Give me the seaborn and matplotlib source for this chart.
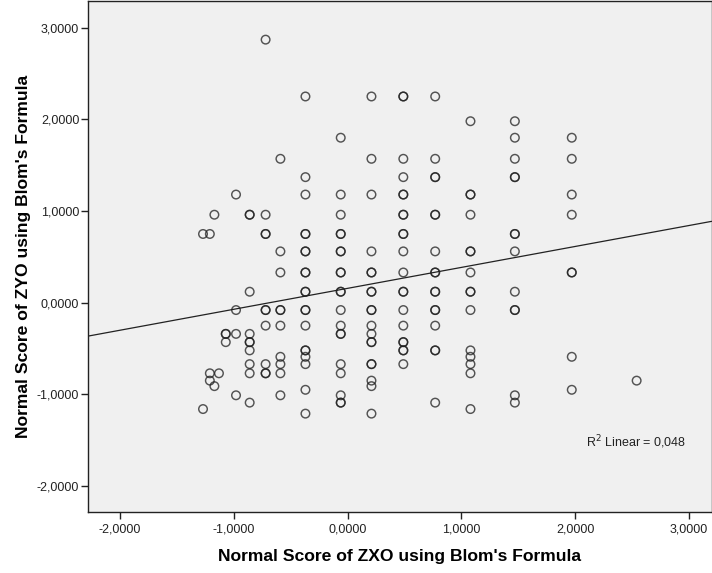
import matplotlib
matplotlib.use("Agg")
import matplotlib.pyplot as plt
from matplotlib.ticker import FuncFormatter, FixedLocator
import seaborn as sns
import pandas as pd

# ---- data (Blom normal scores) ----
zxo = (
    [-1.27] * 2 + [-1.21] * 3 + [-1.17] * 2 + [-1.13] * 1 + [-1.07] * 3 +
    [-0.98] * 4 + [-0.86] * 10 + [-0.72] * 10 + [-0.59] * 10 +
    [-0.37] * 20 + [-0.06] * 20 + [0.21] * 19 + [0.49] * 21 +
    [0.77] * 17 + [1.08] * 15 + [1.47] * 13 + [1.97] * 8 + [2.54] * 1
)
zyo = (
    [0.75, -1.16] +
    [0.75, -0.77, -0.85] +
    [0.96, -0.91] +
    [-0.77] +
    [-0.34, -0.34, -0.43] +
    [1.18, -0.08, -0.34, -1.01] +
    [0.96, 0.96, 0.12, -0.34, -0.43, -0.43, -0.52, -0.67, -0.77, -1.09] +
    [2.87, 0.96, 0.75, 0.75, -0.08, -0.08, -0.25, -0.67, -0.77, -0.77] +
    [1.57, 0.56, 0.33, -0.08, -0.08, -0.25, -0.59, -0.67, -0.77, -1.01] +
    [2.25, 1.37, 1.18, 0.75, 0.75, 0.56, 0.56, 0.33, 0.33, 0.12, 0.12,
     -0.08, -0.08, -0.25, -0.52, -0.52, -0.59, -0.67, -0.95, -1.21] +
    [1.80, 1.18, 0.96, 0.75, 0.75, 0.56, 0.56, 0.33, 0.33, 0.12, 0.12,
     -0.08, -0.25, -0.34, -0.34, -0.67, -0.77, -1.01, -1.09, -1.09] +
    [2.25, 1.57, 1.18, 0.56, 0.33, 0.33, 0.12, 0.12, -0.08, -0.08,
     -0.25, -0.34, -0.43, -0.43, -0.67, -0.67, -0.85, -0.91, -1.21] +
    [2.25, 2.25, 1.57, 1.37, 1.18, 1.18, 0.96, 0.96, 0.75, 0.75, 0.56,
     0.33, 0.12, 0.12, -0.08, -0.25, -0.43, -0.43, -0.52, -0.52, -0.67] +
    [2.25, 1.57, 1.37, 1.37, 0.96, 0.96, 0.56, 0.33, 0.33, 0.12, 0.12,
     -0.08, -0.08, -0.25, -0.52, -0.52, -1.09] +
    [1.98, 1.18, 1.18, 0.96, 0.56, 0.56, 0.33, 0.12, 0.12, -0.08,
     -0.52, -0.59, -0.67, -0.77, -1.16] +
    [1.98, 1.80, 1.57, 1.37, 1.37, 0.75, 0.75, 0.56, 0.12, -0.08, -0.08,
     -1.01, -1.09] +
    [1.80, 1.57, 1.18, 0.96, 0.33, 0.33, -0.59, -0.95] +
    [-0.85]
)
x_ticks = [-2, -1, 0, 1, 2, 3]
y_ticks = [-2, -1, 0, 1, 2, 3]
x_label = "Normal Score of ZXO using Blom's Formula"
y_label = "Normal Score of ZYO using Blom's Formula"
r2_text = "R$^2$ Linear = 0,048"

df = pd.DataFrame({"zxo": zxo, "zyo": zyo})

sns.set_theme(style="white")
plt.rcParams["font.family"] = ["Liberation Sans", "DejaVu Sans"]

fig = plt.figure(figsize=(7.12, 5.73), dpi=100)
ax = fig.add_axes([0.124, 0.106, 0.8755, 0.892])
ax.set_facecolor("#f0f0f0")

xlim = (-2.278, 3.199)
ylim = (-2.286, 3.29)
ax.set_xlim(*xlim)
ax.set_ylim(*ylim)

sns.scatterplot(data=df, x="zxo", y="zyo", ax=ax, marker="o", s=38,
                facecolor="none", edgecolor=(0.12, 0.12, 0.12, 0.75),
                linewidth=1.05, zorder=3)
sns.regplot(data=df, x="zxo", y="zyo", ax=ax, scatter=False, ci=None,
            truncate=False, line_kws=dict(color="#222222", lw=0.9, zorder=2))
ax.set_xlim(*xlim)
ax.set_ylim(*ylim)

fmt = FuncFormatter(lambda v, p: f"{v:.4f}".replace(".", ","))
ax.xaxis.set_major_locator(FixedLocator(x_ticks))
ax.yaxis.set_major_locator(FixedLocator(y_ticks))
ax.xaxis.set_major_formatter(fmt)
ax.yaxis.set_major_formatter(fmt)
ax.tick_params(axis="both", which="major", direction="out", length=5,
               width=1.0, color="#222222", labelsize=9, labelcolor="#222222",
               bottom=True, left=True)
ax.tick_params(axis="x", pad=3)
ax.tick_params(axis="y", pad=1.5)

for sp in ax.spines.values():
    sp.set_color("#222222")
    sp.set_linewidth(1.0)

lab_font = dict(family=["Liberation Sans", "DejaVu Sans"],
                weight="bold", size=12.6, color="black")
ax.set_xlabel(x_label, labelpad=10, **lab_font)
ax.set_ylabel(y_label, labelpad=4, **lab_font)

ax.text(0.799, 0.1375, r2_text, transform=ax.transAxes, fontsize=9,
        color="#222222", ha="left", va="center")

fig.savefig("out.png", dpi=100, facecolor="white")
